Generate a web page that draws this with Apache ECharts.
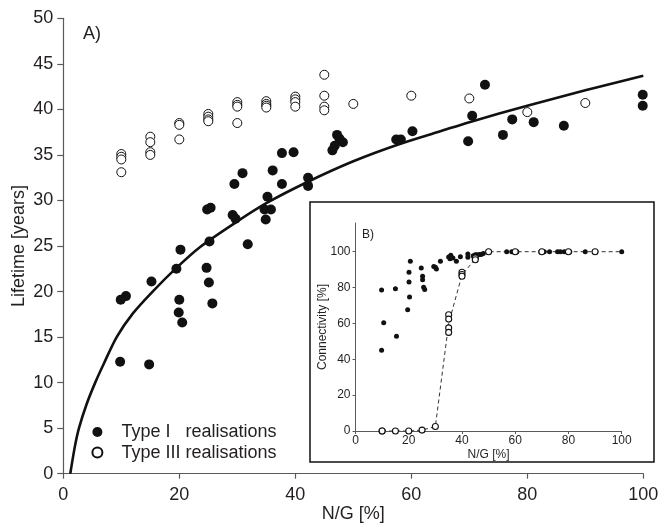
<!DOCTYPE html>
<html><head><meta charset="utf-8">
<script src="https://cdn.jsdelivr.net/npm/echarts@6/dist/echarts.min.js"></script>
<style>html,body{margin:0;padding:0;background:#fff}#c{width:660px;height:525px}</style>
</head><body><div id="c"></div><script>
// ---- Main panel A) : lifetime vs N/G ----
const typeIX = [9.9,10.8,9.8,15.2,14.8,19.5,20.0,19.9,20.5,20.2,24.7,25.1,25.7,25.2,24.8,25.4,29.2,29.7,29.5,30.9,31.8,34.9,34.7,35.8,35.2,36.1,37.7,37.7,39.7,42.2,42.2,46.4,46.8,47.2,47.6,48.2,57.4,58.2,60.2,69.8,70.5,72.7,75.8,77.4,81.1,86.3,99.9,99.9];
const typeIY = [19.1,19.5,12.3,21.1,12.0,22.5,19.1,17.7,16.6,24.6,22.6,21.0,18.7,25.5,29.0,29.2,28.4,28.0,31.8,33.0,25.2,27.9,29.0,29.0,30.4,33.3,31.8,35.2,35.3,32.5,31.6,35.5,36.0,37.2,36.8,36.4,36.7,36.7,37.6,36.5,39.3,42.7,37.2,38.9,38.6,38.2,41.6,40.4];
const typeIIIX = [10,10,10,10,15,15,15,15,20,20,20,25,25,25,25,30,30,30,30,35,35,35,35,40,40,40,40,45,45,45,45,50,60,70,80,90];
const typeIIIY = [35.1,34.8,34.5,33.1,37.0,36.4,35.3,35.0,38.5,38.3,36.7,39.5,39.2,38.9,38.7,40.8,40.5,40.3,38.5,40.9,40.6,40.4,40.2,41.4,41.1,40.8,40.3,43.8,41.5,40.3,39.9,40.6,41.5,41.2,39.7,40.7];
const fitX = [1.2,2,2.7,4,5.5,7,9.2,12,15.4,19.5,23.6,30,35,42,50,58,65,70,80,90,100];
const fitY = [0,3,5,7.6,10,12.1,15,17.6,20,22.6,24.9,27.7,29.7,32.0,34.3,36.2,37.6,38.6,40.4,42.1,43.7];

// ---- Inset B) : connectivity vs N/G ----
const inIX = [9.8,10.6,9.8,15.0,15.4,19.6,20.3,20.1,20.1,20.6,24.7,25.2,25.2,25.6,26.0,29.4,30.0,30.4,31.9,35.0,35.5,36.6,35.8,37.9,39.4,42.2,42.2,44.2,45.0,45.6,46.5,47.2,48.0,56.8,58.7,60.6,69.6,70.9,72.9,75.9,76.9,78.4,80.5,86.3,100];
const inIY = [78.7,60.4,45.0,79.3,52.9,67.6,74.8,83.1,88.5,94.6,90.9,86.3,84.3,80.2,78.9,91.7,91.3,90.4,94.6,97.0,96.0,96.5,98.0,94.6,97.2,98.7,96.9,97.8,98.3,98.3,98.5,98.5,99.0,100,100,100,100,100,100,100,100,100,100,100,100];
const inIIIX = [10,10,15,20,25,30,35,35,35,35,40,40,40,45,45,50,60,70,80,90];
const inIIIY = [0,0,0,0,0.5,2.5,64.8,62.4,57.5,55.0,88.5,87.3,86.3,96.5,95.5,100,100,100,100,100];
const meanX = [10,15,20,25,30,35,40,45,50,60,70,80,90,100];
const meanY = [0,0,0,0.5,2.5,60,87,96,100,100,100,100,100,100];

const insetTicks = [0,20,40,60,80,100];

const zip = (a,b) => a.map((v,i)=>[v,b[i]]);
const FONT = 'Liberation Sans, Arial, Helvetica, sans-serif';
const TXT = '#231f20';
const AX = '#5a5a5a';

const chart = echarts.init(document.getElementById('c'), null, {renderer:'canvas'});
chart.setOption({
  animation:false,
  backgroundColor:'#fff',
  textStyle:{fontFamily:FONT},
  grid:[
    {left:63.3, right:16.7, top:18.3, bottom:51.3, containLabel:false, outerBoundsMode:'none'},
    {left:355.5, right:38.3, top:223, bottom:94, containLabel:false, outerBoundsMode:'none'}
  ],
  xAxis:[
    {gridIndex:0, type:'value', min:0, max:100, interval:20,
     name:'N/G [%]', nameLocation:'middle', nameGap:31, nameMoveOverlap:false,
     nameTextStyle:{fontSize:18, color:TXT, fontFamily:FONT},
     axisLine:{show:true, lineStyle:{color:AX, width:1.2}},
     axisTick:{show:true, inside:false, length:5, lineStyle:{color:AX, width:1.2}},
     axisLabel:{fontSize:18, color:TXT, margin:12, fontFamily:FONT},
     splitLine:{show:false}},
    {gridIndex:1, type:'value', min:0, max:100, interval:20,
     name:'N/G [%]', nameLocation:'middle', nameGap:18, nameMoveOverlap:false,
     nameTextStyle:{fontSize:12, color:TXT, fontFamily:FONT},
     axisLine:{show:true, lineStyle:{color:AX, width:1}},
     axisTick:{show:true, length:3, lineStyle:{color:AX, width:1}},
     axisLabel:{fontSize:12, color:TXT, margin:4, fontFamily:FONT},
     splitLine:{show:false}}
  ],
  yAxis:[
    {gridIndex:0, type:'value', min:0, max:50, interval:5,
     name:'Lifetime [years]', nameLocation:'middle', nameGap:35, nameMoveOverlap:false,
     nameTextStyle:{fontSize:18, color:TXT, fontFamily:FONT},
     axisLine:{show:true, lineStyle:{color:AX, width:1.2}},
     axisTick:{show:true, length:6, lineStyle:{color:AX, width:1.2}},
     axisLabel:{fontSize:18, color:TXT, margin:10, fontFamily:FONT},
     splitLine:{show:false}},
    {gridIndex:1, type:'value', min:0, max:116,
     name:'Connectivity [%]', nameLocation:'middle', nameGap:27, nameMoveOverlap:false,
     nameTextStyle:{fontSize:12, color:TXT, fontFamily:FONT},
     axisLine:{show:true, lineStyle:{color:AX, width:1}},
     axisTick:{show:true, length:3, customValues:insetTicks, lineStyle:{color:AX, width:1}},
     axisLabel:{fontSize:12, color:TXT, margin:5, customValues:insetTicks, fontFamily:FONT},
     splitLine:{show:false}}
  ],
  legend:{
    orient:'vertical', left:86.4, top:418, itemWidth:38, itemHeight:10, itemGap:2.6,
    icon:'circle',
    textStyle:{fontSize:18, color:TXT, fontFamily:FONT},
    data:['Type I   realisations','Type III realisations']
  },
  graphic:[
    {type:'rect', z:-10, shape:{x:310, y:202, width:344, height:260},
     style:{fill:'#fff', stroke:'#111', lineWidth:1.5}},
    {type:'text', left:83, top:25, z:10, style:{text:'A)', fontSize:18, fill:TXT, fontFamily:FONT}},
    {type:'text', left:362, top:229, z:10, style:{text:'B)', fontSize:12, fill:TXT, fontFamily:FONT}}
  ],
  series:[
    {name:'fit', type:'line', xAxisIndex:0, yAxisIndex:0, data:zip(fitX,fitY),
     showSymbol:false, smooth:0.3, lineStyle:{color:'#111', width:2.6}, z:3, silent:true},
    {name:'Type I   realisations', type:'scatter', xAxisIndex:0, yAxisIndex:0, data:zip(typeIX,typeIY),
     symbol:'circle', symbolSize:10, itemStyle:{color:'#111', opacity:1}, z:4},
    {name:'Type III realisations', type:'scatter', xAxisIndex:0, yAxisIndex:0, data:zip(typeIIIX,typeIIIY),
     symbol:'circle', symbolSize:9, itemStyle:{color:'#fff', borderColor:'#111', borderWidth:1, opacity:1}, z:4},
    {name:'mean III', type:'line', xAxisIndex:1, yAxisIndex:1, data:zip(meanX,meanY),
     showSymbol:false, lineStyle:{color:'#333', width:1, type:[4,3]}, z:3, silent:true},
    {name:'inset I', type:'scatter', xAxisIndex:1, yAxisIndex:1, data:zip(inIX,inIY),
     symbol:'circle', symbolSize:5, itemStyle:{color:'#111', opacity:1}, z:4},
    {name:'inset III', type:'scatter', xAxisIndex:1, yAxisIndex:1, data:zip(inIIIX,inIIIY),
     symbol:'circle', symbolSize:6, itemStyle:{color:'#fff', borderColor:'#111', borderWidth:1.1, opacity:1}, z:5}
  ]
});
</script></body></html>
